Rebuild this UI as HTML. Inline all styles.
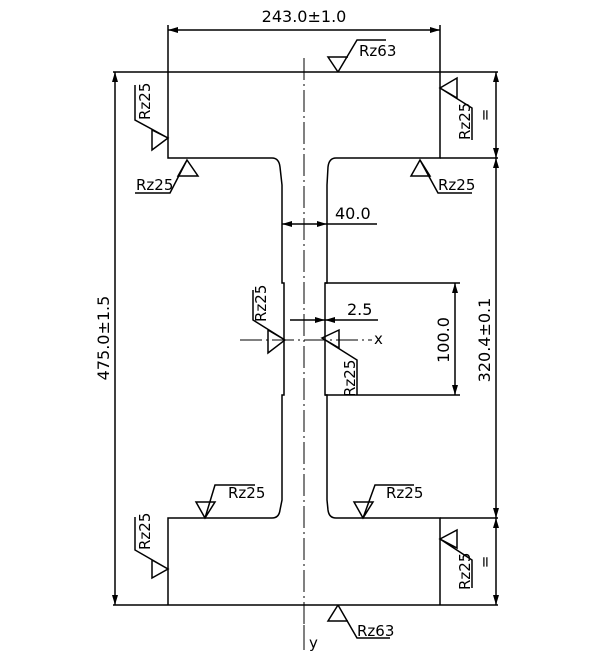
<!DOCTYPE html>
<html><head><style>
html,body{margin:0;padding:0;background:#fff;}
svg{display:block;}
text{font-family:"DejaVu Sans","Liberation Sans",sans-serif;fill:#000;}
</style></head><body>
<svg width="600" height="658" viewBox="0 0 600 658" xmlns="http://www.w3.org/2000/svg">
<defs>
<marker id="a" markerWidth="10" markerHeight="6" refX="10" refY="3" orient="auto-start-reverse" markerUnits="userSpaceOnUse">
<path d="M0,0 L10,3 L0,6 Z" fill="#000"/></marker>
</defs>
<g stroke="#000" stroke-width="1.5" fill="none">
<path d="M113,72 H498 M113,605 H498"/>
<path d="M168,72 V158 H272 Q279,158 280,167 L282,185 V283 H284 V395 H282 V500 L280,510 Q279,518 272,518 H168 V605"/>
<path d="M440,72 V158 H336 Q329,158 328,167 L327,185 V283 H325 V395 H327 V500 L328,510 Q329,518 336,518 H440 V605"/>
<path d="M304,58 V650" stroke-width="1" stroke-dasharray="22,4,2,4"/>
<path d="M240,340 H372" stroke-width="1" stroke-dasharray="22,4,2,4"/>
<path d="M304,625 V650" stroke-width="1"/>
<path d="M168,72 V25 M440,72 V25"/>
<path d="M168,30 H440" marker-start="url(#a)" marker-end="url(#a)"/>
<path d="M115,72 V605" marker-start="url(#a)" marker-end="url(#a)"/>
<path d="M440,158 H498 M440,518 H498"/>
<path d="M496,72 V158" marker-start="url(#a)" marker-end="url(#a)"/>
<path d="M496,158 V518" marker-start="url(#a)" marker-end="url(#a)"/>
<path d="M496,518 V605" marker-start="url(#a)" marker-end="url(#a)"/>
<path d="M282,224 H327" marker-start="url(#a)" marker-end="url(#a)"/>
<path d="M327,224 H377"/>
<path d="M304,320 H325" marker-end="url(#a)"/>
<path d="M290,320 H304"/>
<path d="M378,320 H325" marker-end="url(#a)"/>
<path d="M325,283 H460 M325,395 H460"/>
<path d="M455,283 V395" marker-start="url(#a)" marker-end="url(#a)"/>
<path d="M338,72 L328,57 H348 M338,72 L357,40 H386"/>
<path d="M338,605 L328,621 H348 M338,605 L357,638 H390"/>
<path d="M168,138 L152,130 V150 Z M168,138 L135,120 V85"/>
<path d="M187,160 L178,176 H198 Z M187,160 L170,193 H135"/>
<path d="M440,88 L457,78 V98 Z M440,88 L472,108 V140"/>
<path d="M420,160 L411,176 H430 Z M420,160 L438,193 H472"/>
<path d="M205,518 L196,502 H215 Z M205,518 L215,485 H255"/>
<path d="M363,518 L354,502 H373 Z M363,518 L375,485 H414"/>
<path d="M168,569 L152,560 V578 Z M168,569 L135,550 V517"/>
<path d="M440,539 L457,530 V548 Z M440,539 L472,560 V588"/>
<path d="M285,340 L268,330 V353 Z M285,340 L253,320 V290"/>
<path d="M322,338 L339,330 V348 Z M322,338 L357,360 V395"/>
</g>
<g font-size="15">
<text x="304" y="22" text-anchor="middle" font-size="16">243.0±1.0</text>
<text x="359" y="56">Rz63</text>
<text x="357" y="636">Rz63</text>
<text x="136" y="190">Rz25</text>
<text x="438" y="190">Rz25</text>
<text x="228" y="498">Rz25</text>
<text x="386" y="498">Rz25</text>
<text x="335" y="219" font-size="16">40.0</text>
<text x="347" y="315" font-size="16">2.5</text>
<text x="374" y="344">x</text>
<text x="309" y="648">y</text>
<text transform="translate(150,120) rotate(-90)">Rz25</text>
<text transform="translate(150,550) rotate(-90)">Rz25</text>
<text transform="translate(470,140) rotate(-90)">Rz25</text>
<text transform="translate(470,590) rotate(-90)">Rz25</text>
<text transform="translate(266,322) rotate(-90)">Rz25</text>
<text transform="translate(355,397) rotate(-90)">Rz25</text>
<text transform="translate(449,340) rotate(-90)" text-anchor="middle" font-size="16">100.0</text>
<text transform="translate(490,340) rotate(-90)" text-anchor="middle" font-size="16">320.4±0.1</text>
<text transform="translate(109,338) rotate(-90)" text-anchor="middle" font-size="16">475.0±1.5</text>
<text transform="translate(490,115) rotate(-90)" text-anchor="middle">=</text>
<text transform="translate(490,562) rotate(-90)" text-anchor="middle">=</text>
</g>
</svg>
</body></html>
